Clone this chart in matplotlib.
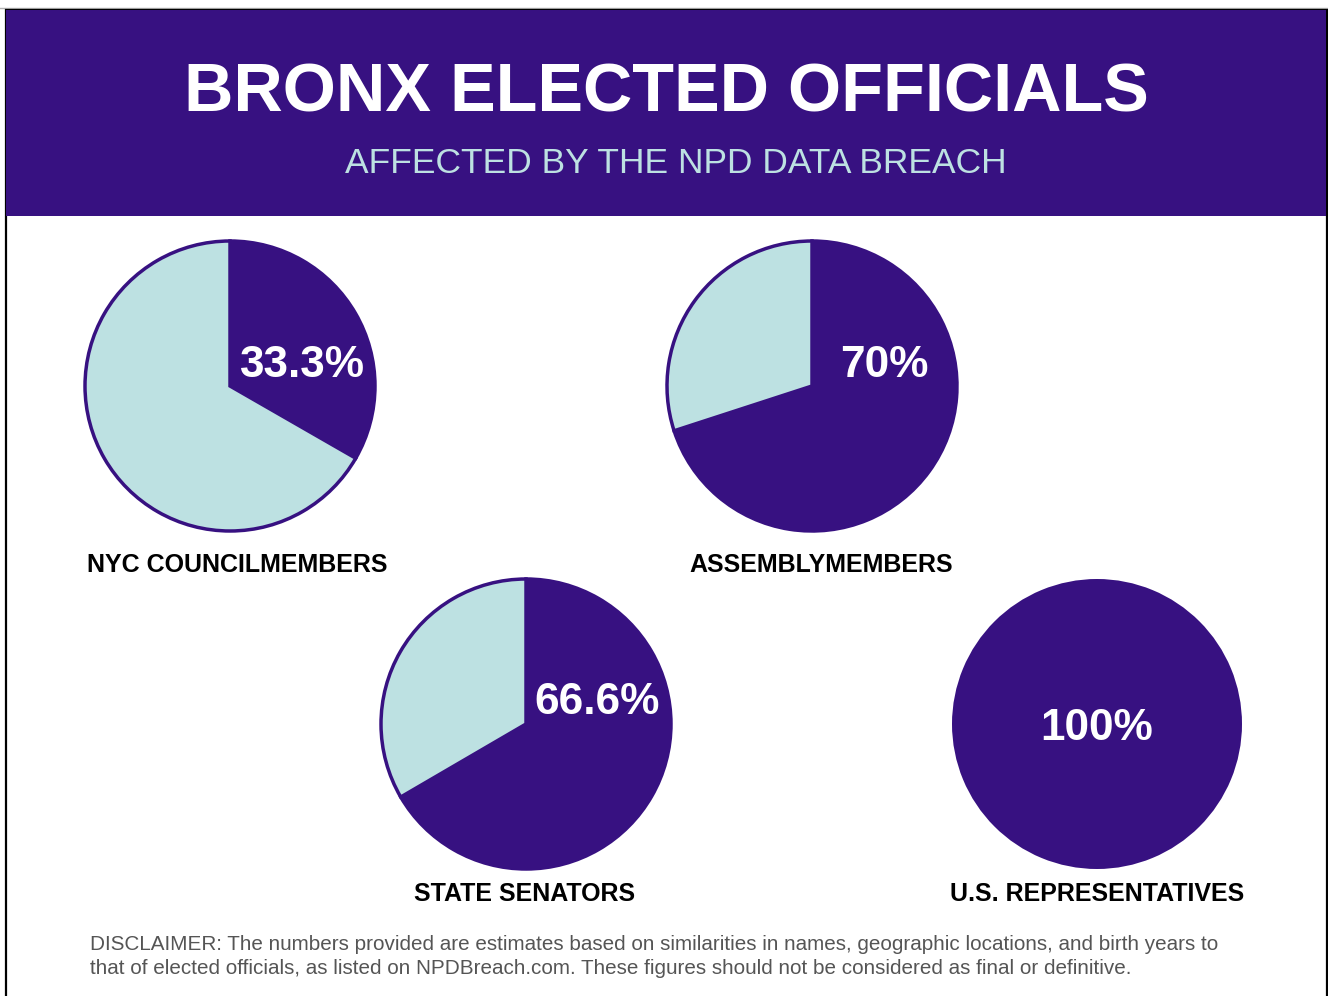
import matplotlib.pyplot as plt
from matplotlib.patches import Rectangle

# data
groups = ['NYC COUNCILMEMBERS', 'ASSEMBLYMEMBERS', 'STATE SENATORS', 'U.S. REPRESENTATIVES']
affected = [33.3, 70, 66.6, 100]
pct_labels = ['33.3%', '70%', '66.6%', '100%']

purple = '#371181'
light = '#bde1e2'

plt.rcParams['font.family'] = ['Liberation Sans', 'DejaVu Sans']

W, H = 1328, 996
fig = plt.figure(figsize=(W / 100, H / 100), dpi=100)
ax = fig.add_axes([0, 0, 1, 1])
ax.set_xlim(0, W)
ax.set_ylim(0, H)
ax.set_aspect('equal')
ax.axis('off')

def Y(y):  # pixel row -> data y
    return H - y

# frame and header band
ax.add_patch(Rectangle((5.5, Y(1100)), 1321, 1100 - 9.5, fill=False, edgecolor='black', lw=1.6, zorder=1))
ax.plot([0, W], [Y(8), Y(8)], color='#b0b0b0', lw=1, zorder=0)
ax.add_patch(Rectangle((6, Y(216)), 1320, 206, facecolor=purple, edgecolor='none', zorder=2))
ax.text(666, Y(93), 'BRONX ELECTED OFFICIALS', color='white', fontsize=49.2, fontweight='bold',
        ha='center', va='center', zorder=3)
ax.text(676, Y(163), 'AFFECTED BY THE NPD DATA BREACH', color=light, fontsize=25.5,
        ha='center', va='center', zorder=3)

# layout: pie centre, name label, percent label position
centres = [(230, 386), (812, 386), (526, 724), (1097, 724)]
name_pos = [(237, 565), (821, 565), (525, 894), (1097, 894)]
pct_pos = [(302, 365), (884, 365), (597, 702), (1097, 728)]
R = 145

for i, p in enumerate(affected):
    cx, cy = centres[i]
    wedges, _ = ax.pie([p, 100 - p], colors=[purple, light], startangle=90, counterclock=False,
                       center=(cx, Y(cy)), radius=R, frame=True,
                       wedgeprops=dict(edgecolor=purple, linewidth=2.5 if p < 100 else 0))
    ax.text(pct_pos[i][0], Y(pct_pos[i][1]), pct_labels[i], color='white', fontsize=31.8,
            fontweight='bold', ha='center', va='center', zorder=5)
    ax.text(name_pos[i][0], Y(name_pos[i][1]), groups[i], color='black', fontsize=18,
            fontweight='bold', ha='center', va='center', zorder=5)

ax.set_xlim(0, W)
ax.set_ylim(0, H)
ax.axis('off')

ax.text(90, Y(944), 'DISCLAIMER: The numbers provided are estimates based on similarities in names, '
        'geographic locations, and birth years to', color='#555555', fontsize=14.9, ha='left', va='center')
ax.text(90, Y(969), 'that of elected officials, as listed on NPDBreach.com. These figures should not be '
        'considered as final or definitive.', color='#555555', fontsize=14.9, ha='left', va='center')

fig.savefig('out.png', dpi=100)
